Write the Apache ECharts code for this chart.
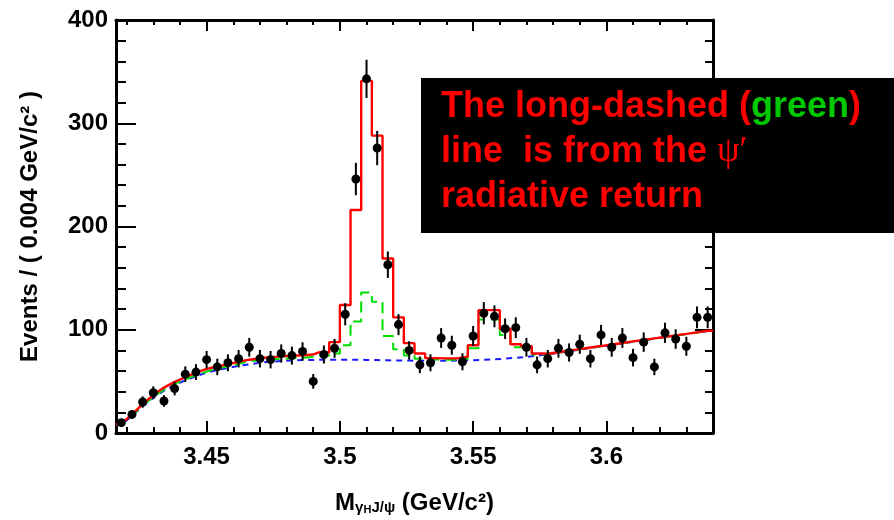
<!DOCTYPE html>
<html>
<head>
<meta charset="utf-8">
<script src="https://cdn.jsdelivr.net/npm/echarts@6/dist/echarts.min.js"></script>
<style>
  html, body { margin: 0; padding: 0; background: #fff; }
  #chart { width: 894px; height: 520px; }
</style>
</head>
<body>
<div id="chart"></div>
<script>
// Invariant mass bins (GeV/c^2), 0.004 GeV/c^2 wide
const massCenters = [
  3.418, 3.422, 3.426, 3.430, 3.434, 3.438, 3.442, 3.446, 3.450, 3.454,
  3.458, 3.462, 3.466, 3.470, 3.474, 3.478, 3.482, 3.486, 3.490, 3.494,
  3.498, 3.502, 3.506, 3.510, 3.514, 3.518, 3.522, 3.526, 3.530, 3.534,
  3.538, 3.542, 3.546, 3.550, 3.554, 3.558, 3.562, 3.566, 3.570, 3.574,
  3.578, 3.582, 3.586, 3.590, 3.594, 3.598, 3.602, 3.606, 3.610, 3.614,
  3.618, 3.622, 3.626, 3.630, 3.634, 3.638
];
const binWidth = 0.004;

// Observed events per bin and their statistical errors
const events = [
  10, 18, 30, 39, 31, 43, 57, 59, 71, 64,
  68, 72, 83, 72, 71, 77, 75, 79, 50, 76,
  82, 115, 246, 343, 276, 163, 105, 80, 66, 68,
  92, 85, 69, 94, 116, 113, 101, 102, 83, 66,
  72, 82, 78, 86, 72, 95, 83, 92, 73, 88,
  64, 97, 91, 84, 112, 112
];
const eventErrors = [
  3.2, 4.2, 5.5, 6.2, 5.6, 6.6, 7.5, 7.7, 8.4, 8.0,
  8.2, 8.5, 9.1, 8.5, 8.4, 8.8, 8.7, 8.9, 7.1, 8.7,
  9.1, 10.7, 15.7, 18.5, 16.6, 12.8, 10.2, 8.9, 8.1, 8.2,
  9.6, 9.2, 8.3, 9.7, 10.8, 10.6, 10.0, 10.1, 9.1, 8.1,
  8.5, 9.1, 8.8, 9.3, 8.5, 9.7, 9.1, 9.6, 8.5, 9.4,
  8.0, 9.8, 9.5, 9.2, 10.6, 10.6
];

// Fit components per bin
const totalFit = [
  9, 18, 28, 37, 44, 49.5, 54, 58.5, 62, 64.5,
  66.5, 69, 71, 72.5, 73.5, 74.2, 74.8, 75.3, 76,
  78, 88, 124, 216, 341, 288, 169, 112, 87, 77,
  72.5, 72.3, 72.3, 74, 85, 119, 119, 101, 86, 84, 77,
  76.8, 78.2, 79.8, 81.2, 82.8, 84.2, 85.7, 87.2, 88.7, 90.2,
  91.6, 93.1, 94.6, 96.0, 97.5, 99.0
];
const radiativeReturn = [
  8.5, 17, 26.5, 35, 42, 47.5, 52, 56, 59.5, 62.5,
  64.5, 67, 69.5, 70.5, 71.2, 71.8, 72.3, 72.8, 73.5,
  75, 77, 85, 108, 136, 127, 94, 81, 75, 72,
  71.3, 71, 71, 72, 82, 110, 110, 95, 83, 82, 76,
  76.5, 78, 79.5, 81, 82.5, 84, 85.5, 87, 88.5, 90,
  91.4, 92.9, 94.4, 95.8, 97.3, 98.8
];
const background = [
  8, 16.5, 26, 34, 41, 46.5, 51, 55, 58.5, 61,
  63, 65, 66.5, 68, 69, 69.7, 70.2, 70.6, 70.8,
  71, 71, 71, 70.9, 70.8, 70.6, 70.4, 70.2, 70.1, 70,
  70, 70, 70, 70.2, 70.5, 70.9, 71.4, 72, 72.8, 73.7, 74.8,
  76, 77.6, 79.2, 80.7, 82.3, 83.8, 85.3, 86.8, 88.3, 89.8,
  91.3, 92.8, 94.3, 95.8, 97.3, 98.8
];
// bins drawn as a histogram (signal region)
const stepFirst = 19, stepLast = 39;

// Axis ticks
const xMajorTicks = [3.45, 3.5, 3.55, 3.6];
const xMinorTicks = [3.42, 3.43, 3.44, 3.46, 3.47, 3.48, 3.49, 3.51, 3.52, 3.53,
                     3.54, 3.56, 3.57, 3.58, 3.59, 3.61, 3.62, 3.63];
const yTickStep = 100;
const yMax = 400;

const xMin = massCenters[0] - binWidth / 2;
const xMax = massCenters[massCenters.length - 1] + binWidth / 2;

function curve(values, withSteps) {
  const pts = [[xMin, values[0]]];
  massCenters.forEach((c, i) => {
    if (withSteps && i >= stepFirst && i <= stepLast) {
      pts.push([c - binWidth / 2, values[i]], [c + binWidth / 2, values[i]]);
    } else {
      pts.push([c, values[i]]);
    }
  });
  pts.push([xMax, values[values.length - 1]]);
  return pts;
}

const FONT = 'Liberation Sans, Arial, Helvetica, sans-serif';
const tickStyle = { color: '#000', width: 2 };

const chart = echarts.init(document.getElementById('chart'), null, { renderer: 'canvas' });
chart.setOption({
  animation: false,
  backgroundColor: '#fff',
  grid: { left: 116, top: 20, right: 181, bottom: 85, containLabel: false },
  xAxis: [
    {
      type: 'value', min: xMin, max: xMax, position: 'bottom',
      axisLine: { lineStyle: { color: '#000', width: 3 } },
      axisTick: { inside: true, length: 12, customValues: xMajorTicks, lineStyle: tickStyle },
      axisLabel: { customValues: xMajorTicks, fontSize: 24, fontWeight: 'bold', color: '#000', margin: 12, fontFamily: FONT },
      splitLine: { show: false },
      name: '{m|M}{s|γ}{h|H}{s|J/ψ}{m| (GeV/c²)}',
      nameLocation: 'middle', nameGap: 52,
      nameTextStyle: {
        rich: {
          m: { fontSize: 24, fontWeight: 'bold', fontFamily: FONT, color: '#000', verticalAlign: 'bottom', lineHeight: 30 },
          s: { fontSize: 15, fontWeight: 'bold', fontFamily: FONT, color: '#000', verticalAlign: 'bottom', lineHeight: 20 },
          h: { fontSize: 11, fontWeight: 'bold', fontFamily: FONT, color: '#000', verticalAlign: 'bottom', lineHeight: 30 }
        }
      }
    },
    {
      type: 'value', min: xMin, max: xMax, position: 'bottom',
      axisLine: { show: false },
      axisTick: { inside: true, length: 6, customValues: xMinorTicks, lineStyle: tickStyle },
      axisLabel: { show: false }, splitLine: { show: false }
    },
    {
      type: 'value', min: xMin, max: xMax, position: 'top',
      axisLine: { lineStyle: { color: '#000', width: 3 } },
      axisTick: { inside: true, length: 11, customValues: xMajorTicks, lineStyle: tickStyle },
      axisLabel: { show: false }, splitLine: { show: false }
    },
    {
      type: 'value', min: xMin, max: xMax, position: 'top',
      axisLine: { show: false },
      axisTick: { inside: true, length: 5, customValues: xMinorTicks, lineStyle: tickStyle },
      axisLabel: { show: false }, splitLine: { show: false }
    }
  ],
  yAxis: [
    {
      type: 'value', min: 0, max: yMax, interval: yTickStep, position: 'left',
      axisLine: { show: true, lineStyle: { color: '#000', width: 3 } },
      axisTick: { show: true, inside: true, length: 20, lineStyle: tickStyle },
      minorTick: { show: true, splitNumber: 5, length: 10, lineStyle: tickStyle },
      axisLabel: { fontSize: 24, fontWeight: 'bold', color: '#000', margin: 8, fontFamily: FONT },
      splitLine: { show: false },
      name: 'Events / ( 0.004 GeV/c² )',
      nameLocation: 'middle', nameGap: 74, nameRotate: 90,
      nameTextStyle: { fontSize: 24, fontWeight: 'bold', color: '#000', fontFamily: FONT }
    },
    {
      type: 'value', min: 0, max: yMax, interval: yTickStep, position: 'right',
      axisLine: { show: true, lineStyle: { color: '#000', width: 3 } },
      axisTick: { show: true, inside: true, length: 18, lineStyle: tickStyle },
      minorTick: { show: true, splitNumber: 5, length: 8, lineStyle: tickStyle },
      axisLabel: { show: false },
      splitLine: { show: false }
    }
  ],
  series: [
    {
      name: 'background', type: 'line', xAxisIndex: 0, yAxisIndex: 0,
      data: curve(background, false), showSymbol: false, symbol: 'none',
      lineStyle: { color: '#1a1aff', width: 2, type: [6, 5] }, z: 2
    },
    {
      name: 'radiative return', type: 'line', xAxisIndex: 0, yAxisIndex: 0,
      data: curve(radiativeReturn, true), showSymbol: false, symbol: 'none',
      lineStyle: { color: '#00dd00', width: 2, type: [11, 6] }, z: 3
    },
    {
      name: 'total', type: 'line', xAxisIndex: 0, yAxisIndex: 0,
      data: curve(totalFit, true), showSymbol: false, symbol: 'none',
      lineStyle: { color: '#ff0000', width: 2.4 }, z: 4
    },
    {
      name: 'errors', type: 'custom', xAxisIndex: 0, yAxisIndex: 0,
      data: massCenters.map((c, i) => [c, events[i], eventErrors[i]]),
      renderItem: function (params, api) {
        const x = api.value(0), y = api.value(1), e = api.value(2);
        const p1 = api.coord([x, y + e]);
        const p2 = api.coord([x, y - e]);
        return { type: 'line', shape: { x1: p1[0], y1: p1[1], x2: p2[0], y2: p2[1] },
                 style: { stroke: '#000', lineWidth: 2 } };
      },
      z: 5
    },
    {
      name: 'data', type: 'scatter', xAxisIndex: 0, yAxisIndex: 0,
      data: massCenters.map((c, i) => [c, events[i]]),
      symbol: 'circle', symbolSize: 9,
      itemStyle: { color: '#000', opacity: 1 }, z: 6
    }
  ],
  graphic: [
    {
      type: 'rect', left: 421, top: 78, z: 100,
      shape: { width: 473, height: 155 },
      style: { fill: '#000' }
    },
    {
      type: 'text', left: 441, top: 89, z: 101,
      style: {
        text: '{r|The long-dashed (}{g|green}{r|)}\n{r|line  is from the }{p|ψ′}\n{r|radiative return}',
        rich: {
          r: { fontSize: 36, fontWeight: 'bold', fontFamily: FONT, fill: '#ff0000', lineHeight: 45 },
          g: { fontSize: 36, fontWeight: 'bold', fontFamily: FONT, fill: '#00c800', lineHeight: 45 },
          p: { fontSize: 36, fontWeight: 'normal', fontFamily: 'Liberation Serif, Times New Roman, serif', fill: '#ff0000', lineHeight: 45 }
        }
      }
    }
  ]
});
</script>
</body>
</html>
